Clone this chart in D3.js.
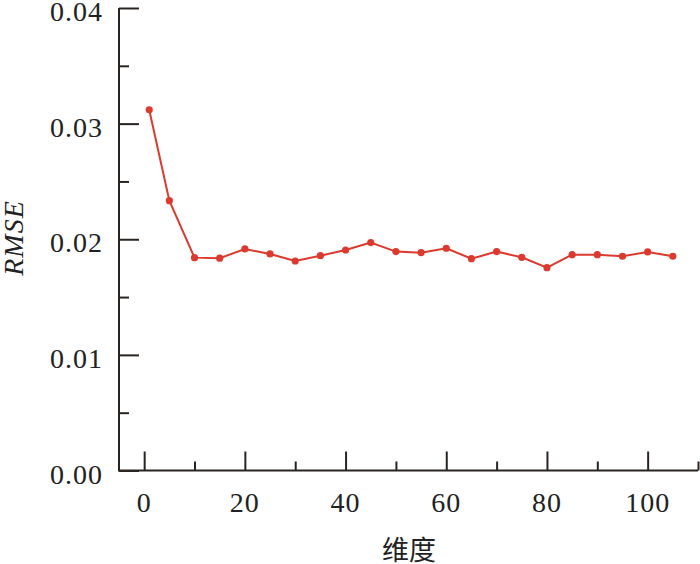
<!DOCTYPE html>
<html><head><meta charset="utf-8">
<script src="https://cdn.jsdelivr.net/npm/d3@7/dist/d3.min.js"></script>
<style>body{margin:0;background:#fff}svg{display:block}</style>
</head><body><svg id="c" width="700" height="564"></svg>
<script>
const dims = [1,5,10,15,20,25,30,35,40,45,50,55,60,65,70,75,80,85,90,95,100,105];
const rmse = [0.0312,0.02334,0.01841,0.01836,0.01916,0.01873,0.01812,0.01858,0.01907,0.01971,0.01893,0.01884,0.01922,0.01832,0.01893,0.01844,0.01754,0.01867,0.01867,0.01853,0.0189,0.01853];
const xMajor = [0,20,40,60,80,100];
const xMinor = [10,30,50,70,90,110];
const yMajor = [0,0.01,0.02,0.03,0.04];
const yMinor = [0.005,0.015,0.025,0.035];
const xTitle = "维度", yTitle = "RMSE";

const svg = d3.select("#c");
const x = d3.scaleLinear().domain([-5,110]).range([119,698]);
const y = d3.scaleLinear().domain([0,0.04]).range([470.5,8]);
const axisColor = "#2a2420";
const serif = "'Liberation Serif','Times New Roman',serif";

// X axis
const gx = svg.append("g").attr("transform",`translate(0,${y(0)})`);
gx.append("g").call(d3.axisTop(x).tickValues(xMinor).tickSize(9).tickFormat(""));
gx.append("g").call(d3.axisTop(x).tickValues(xMajor).tickSize(19).tickFormat(""));
gx.selectAll(".domain").remove();
gx.append("line").attr("x1",x.range()[0]).attr("x2",x.range()[1]);
gx.selectAll("line").attr("stroke",axisColor).attr("stroke-width",2);
gx.selectAll(".xl").data(xMajor).enter().append("text")
  .attr("x",d=>x(d)).attr("y",41).attr("text-anchor","middle")
  .attr("font-family",serif).attr("font-size",28).attr("letter-spacing",1).attr("fill","#222")
  .text(d=>d);

// Y axis
const gy = svg.append("g").attr("transform",`translate(${x(-5)},0)`);
gy.append("g").call(d3.axisRight(y).tickValues(yMinor).tickSize(10).tickFormat(""));
gy.append("g").call(d3.axisRight(y).tickValues(yMajor).tickSize(20).tickFormat(""));
gy.selectAll(".domain").remove();
gy.append("line").attr("y1",y.range()[0]+1).attr("y2",y.range()[1]);
gy.selectAll("line").attr("stroke",axisColor).attr("stroke-width",2);
gy.selectAll(".yl").data(yMajor).enter().append("text")
  .attr("x",-16).attr("y",d=>y(d)+13).attr("text-anchor","end")
  .attr("font-family",serif).attr("font-size",28).attr("letter-spacing",1).attr("fill","#222")
  .text(d=>d3.format(".2f")(d));

// Titles
svg.append("text").attr("x",409).attr("y",560).attr("text-anchor","middle")
  .attr("font-family","'Noto Sans CJK SC',serif").attr("font-size",27).attr("fill","#222").text(xTitle);
svg.append("text").attr("transform","translate(23,238) rotate(-90)").attr("text-anchor","middle")
  .attr("font-family",serif).attr("font-style","italic").attr("font-size",28).attr("letter-spacing",1).attr("fill","#222").text(yTitle);

// Line
const red = "#dc3a2e";
svg.append("path").datum(dims.map((d,i)=>[d,rmse[i]]))
  .attr("fill","none").attr("stroke",red).attr("stroke-width",2)
  .attr("d",d3.line().x(d=>x(d[0])).y(d=>y(d[1])));
svg.selectAll(".pt").data(dims).enter().append("circle")
  .attr("cx",d=>x(d)).attr("cy",(d,i)=>y(rmse[i])).attr("r",3.6).attr("fill",red);
</script></body></html>
